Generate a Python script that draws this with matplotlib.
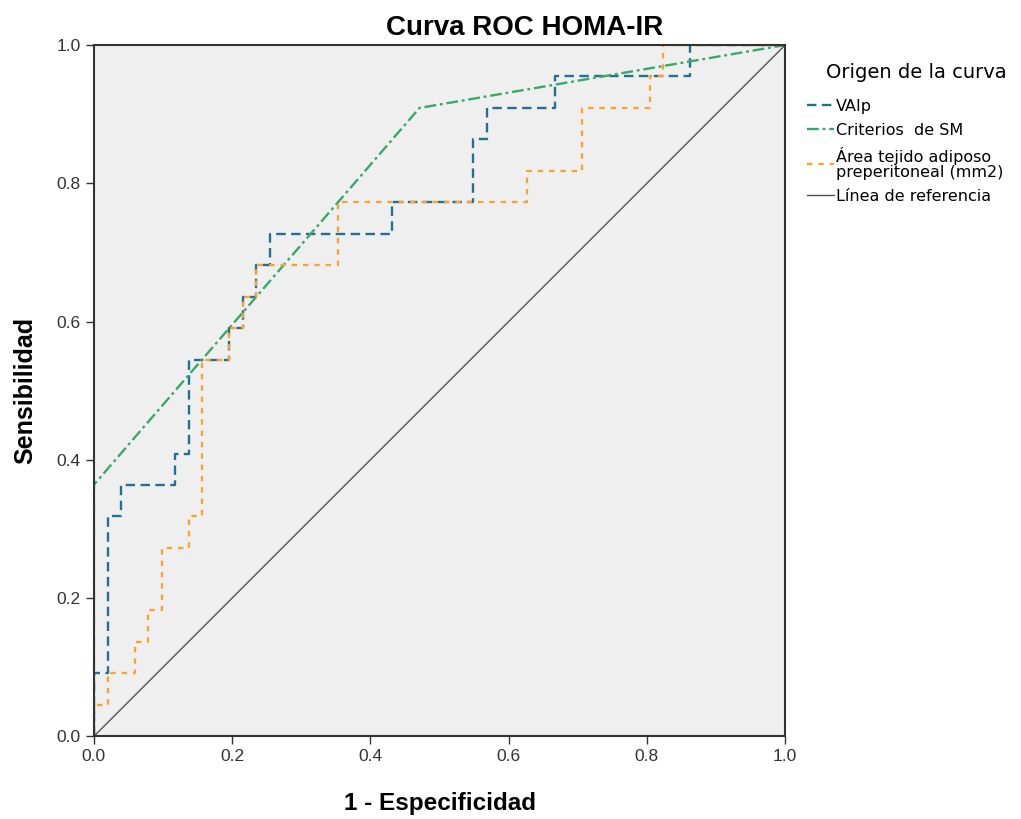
import matplotlib
matplotlib.use("Agg")
from matplotlib import pyplot as plt

plt.rcParams['font.family'] = ['Liberation Sans', 'DejaVu Sans']

# ROC points (1 - especificidad, sensibilidad)
vaip_x = [0, 0, 0.020, 0.020, 0.039, 0.039, 0.118, 0.118, 0.137, 0.137, 0.196, 0.196,
          0.216, 0.216, 0.235, 0.235, 0.255, 0.255, 0.431, 0.431, 0.549, 0.549,
          0.569, 0.569, 0.667, 0.667, 0.863, 0.863, 1.0]
vaip_y = [0, 0.091, 0.091, 0.318, 0.318, 0.364, 0.364, 0.409, 0.409, 0.545, 0.545, 0.591,
          0.591, 0.636, 0.636, 0.682, 0.682, 0.727, 0.727, 0.773, 0.773, 0.864,
          0.864, 0.909, 0.909, 0.955, 0.955, 1.0, 1.0]

sm_x = [0, 0, 0.471, 1.0]
sm_y = [0, 0.364, 0.909, 1.0]

area_x = [0, 0, 0.020, 0.020, 0.059, 0.059, 0.078, 0.078, 0.098, 0.098, 0.137, 0.137,
          0.157, 0.157, 0.196, 0.196, 0.216, 0.216, 0.235, 0.235, 0.353, 0.353,
          0.627, 0.627, 0.706, 0.706, 0.804, 0.804, 0.824, 0.824, 1.0]
area_y = [0, 0.045, 0.045, 0.091, 0.091, 0.136, 0.136, 0.182, 0.182, 0.273, 0.273, 0.318,
          0.318, 0.545, 0.545, 0.591, 0.591, 0.636, 0.636, 0.682, 0.682, 0.773,
          0.773, 0.818, 0.818, 0.909, 0.909, 0.955, 0.955, 1.0, 1.0]

ref_x = [0, 1]
ref_y = [0, 1]

ticks = [0.0, 0.2, 0.4, 0.6, 0.8, 1.0]
tick_labels = ["0.0", "0.2", "0.4", "0.6", "0.8", "1.0"]

fig = plt.figure(figsize=(10.21, 8.19), dpi=100)
ax = fig.add_axes([0.092, 0.101, 0.677, 0.844])
ax.set_facecolor("#efefef")

ax.plot(vaip_x, vaip_y, color="#23708f", lw=1.7, linestyle=(0, (4.0, 2.3)), label="VAIp")
ax.plot(sm_x, sm_y, color="#38a86c", lw=1.7, linestyle=(0, (5, 1.6, 1.2, 1.6)), label="Criterios  de SM")
ax.plot(area_x, area_y, color="#f5a531", lw=1.7, linestyle=(0, (2.3, 2.5)),
        label="Área tejido adiposo\npreperitoneal (mm2)")
ax.plot(ref_x, ref_y, color="#555555", lw=1.0, label="Línea de referencia")

ax.set_xlim(0, 1)
ax.set_ylim(0, 1)
ax.set_xticks(ticks)
ax.set_xticklabels(tick_labels)
ax.set_yticks(ticks)
ax.set_yticklabels(tick_labels)
ax.tick_params(length=6, width=1, colors="#333333", labelsize=12.5)
for s in ax.spines.values():
    s.set_color("#333333")
    s.set_linewidth(1.5)

ax.set_xlabel("1 - Especificidad", fontsize=17.5, fontweight="bold", labelpad=20)
ax.set_ylabel("Sensibilidad", fontsize=18, fontweight="bold", labelpad=14)
fig.text(525 / 1021, 1 - 28 / 819, "Curva ROC HOMA-IR", fontsize=20, fontweight="bold",
         ha="center", va="center")

# legend title drawn separately so the gap to the entries matches
fig.text(916 / 1021, 1 - 72 / 819, "Origen de la curva", family="DejaVu Sans", fontsize=14,
         ha="center", va="center")
leg = ax.legend(loc="upper left", bbox_to_anchor=(1.031, 0.922), frameon=False,
                borderaxespad=0, borderpad=0,
                prop={"family": "DejaVu Sans", "size": 11.5},
                handlelength=1.7, handletextpad=0.15, labelspacing=0.55)
for t in leg.get_texts():
    t.set_linespacing(1.05)

fig.savefig("out.png", dpi=100, facecolor="white")
